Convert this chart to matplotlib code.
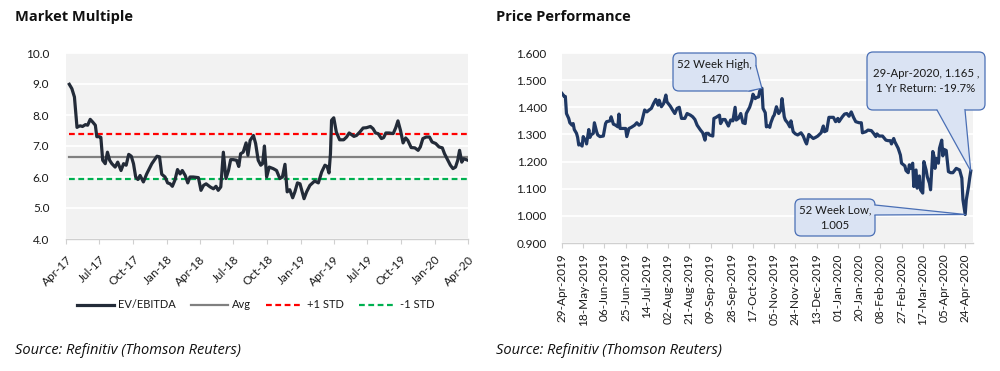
import matplotlib
matplotlib.use("Agg")
import matplotlib.pyplot as plt
import matplotlib.dates as mdates
import matplotlib.ticker as mticker
from matplotlib.patches import FancyBboxPatch, Polygon
from matplotlib.lines import Line2D
from matplotlib.transforms import IdentityTransform
import numpy as np
import pandas as pd

# ---------------- data ----------------
ev_dates = [
    "2017-04-10", "2017-04-17", "2017-04-24", "2017-05-01", "2017-05-05", "2017-05-10",
    "2017-05-16", "2017-05-24", "2017-05-30", "2017-06-06", "2017-06-13", "2017-06-20",
    "2017-06-24", "2017-07-01", "2017-07-05", "2017-07-10", "2017-07-17", "2017-07-23",
    "2017-07-29", "2017-08-04", "2017-08-13", "2017-08-20", "2017-08-29", "2017-09-05",
    "2017-09-12", "2017-09-19", "2017-09-26", "2017-10-02", "2017-10-08", "2017-10-14",
    "2017-10-20", "2017-10-29", "2017-11-07", "2017-11-21", "2017-12-05", "2017-12-12",
    "2017-12-18", "2017-12-27", "2018-01-03", "2018-01-10", "2018-01-16", "2018-01-23",
    "2018-01-30", "2018-02-06", "2018-02-12", "2018-02-20", "2018-02-27", "2018-03-05",
    "2018-03-14", "2018-03-28", "2018-04-04", "2018-04-11", "2018-04-18", "2018-04-29",
    "2018-05-08", "2018-05-15", "2018-05-21", "2018-05-28", "2018-06-04", "2018-06-11",
    "2018-06-18", "2018-06-24", "2018-07-01", "2018-07-10", "2018-07-16", "2018-07-21",
    "2018-07-28", "2018-08-05", "2018-08-10", "2018-08-16", "2018-08-25", "2018-08-31",
    "2018-09-07", "2018-09-14", "2018-09-19", "2018-09-24", "2018-09-30", "2018-10-07",
    "2018-10-18", "2018-10-27", "2018-11-05", "2018-11-12", "2018-11-19", "2018-11-25",
    "2018-12-02", "2018-12-10", "2018-12-16", "2018-12-23", "2018-12-30", "2019-01-10",
    "2019-01-17", "2019-01-26", "2019-02-08", "2019-02-18", "2019-02-27", "2019-03-08",
    "2019-03-14", "2019-03-19", "2019-03-23", "2019-03-26", "2019-04-01", "2019-04-08",
    "2019-04-17", "2019-04-28", "2019-05-06", "2019-05-13", "2019-05-19", "2019-05-26",
    "2019-06-02", "2019-06-11", "2019-06-20", "2019-06-29", "2019-07-10", "2019-07-17",
    "2019-07-24", "2019-07-31", "2019-08-09", "2019-08-15", "2019-08-21", "2019-08-30",
    "2019-09-10", "2019-09-17", "2019-09-23", "2019-09-30", "2019-10-07", "2019-10-14",
    "2019-10-20", "2019-10-29", "2019-11-08", "2019-11-17", "2019-11-23", "2019-11-30",
    "2019-12-09", "2019-12-18", "2019-12-25", "2020-01-04", "2020-01-13", "2020-01-22",
    "2020-01-28", "2020-02-06", "2020-02-13", "2020-02-20", "2020-02-27", "2020-03-04",
    "2020-03-09", "2020-03-15", "2020-03-20", "2020-03-27", "2020-04-01",
]
ev_ebitda = [
    8.99, 8.85, 8.58, 7.60, 7.63, 7.65,
    7.63, 7.69, 7.67, 7.86, 7.77, 7.67,
    7.30, 7.30, 7.28, 6.54, 6.43, 6.80,
    6.54, 6.43, 6.32, 6.48, 6.21, 6.43,
    6.38, 6.73, 6.67, 6.43, 6.00, 5.92,
    6.05, 5.84, 6.10, 6.43, 6.67, 6.65,
    6.09, 6.00, 5.81, 5.78, 5.70, 5.90,
    6.24, 6.10, 6.21, 6.05, 5.81, 6.00,
    6.00, 5.98, 5.57, 5.73, 5.78, 5.68,
    5.62, 5.70, 5.57, 5.68, 6.80, 5.95,
    6.21, 6.56, 6.56, 6.54, 6.34, 6.75,
    6.80, 7.10, 6.70, 7.18, 7.34, 7.08,
    6.54, 6.38, 6.43, 7.00, 6.00, 6.32,
    6.27, 6.21, 5.95, 6.00, 6.41, 5.52,
    5.59, 5.33, 5.52, 5.81, 5.78, 5.30,
    5.52, 5.73, 5.87, 5.81, 6.16, 6.38,
    6.34, 6.13, 6.75, 7.83, 7.91, 7.45,
    7.20, 7.20, 7.29, 7.42, 7.37, 7.31,
    7.34, 7.45, 7.58, 7.59, 7.63, 7.56,
    7.42, 7.40, 7.24, 7.27, 7.42, 7.42,
    7.40, 7.59, 7.81, 7.50, 7.10, 7.26,
    7.18, 6.95, 6.94, 6.86, 6.97, 7.24,
    7.29, 7.29, 7.13, 7.08, 6.97, 6.94,
    6.75, 6.54, 6.38, 6.27, 6.32, 6.54,
    6.86, 6.48, 6.59, 6.56, 6.54,
]
ev_avg = 6.65
ev_plus_std = 7.38
ev_minus_std = 5.92

price_dates = [
    "2019-04-29", "2019-05-01", "2019-05-02", "2019-05-03", "2019-05-05", "2019-05-06",
    "2019-05-08", "2019-05-09", "2019-05-10", "2019-05-12", "2019-05-13", "2019-05-14",
    "2019-05-15", "2019-05-17", "2019-05-18", "2019-05-19", "2019-05-20", "2019-05-21",
    "2019-05-23", "2019-05-24", "2019-05-25", "2019-05-27", "2019-05-28", "2019-05-30",
    "2019-05-31", "2019-06-02", "2019-06-05", "2019-06-07", "2019-06-08", "2019-06-11",
    "2019-06-12", "2019-06-14", "2019-06-16", "2019-06-18", "2019-06-19", "2019-06-20",
    "2019-06-22", "2019-06-25", "2019-06-26", "2019-06-28", "2019-06-30", "2019-07-03",
    "2019-07-05", "2019-07-07", "2019-07-09", "2019-07-12", "2019-07-14", "2019-07-16",
    "2019-07-18", "2019-07-20", "2019-07-22", "2019-07-24", "2019-07-25", "2019-07-27",
    "2019-07-29", "2019-07-31", "2019-08-01", "2019-08-04", "2019-08-06", "2019-08-08",
    "2019-08-10", "2019-08-12", "2019-08-14", "2019-08-17", "2019-08-19", "2019-08-22",
    "2019-08-24", "2019-08-26", "2019-08-28", "2019-08-31", "2019-09-02", "2019-09-04",
    "2019-09-05", "2019-09-07", "2019-09-08", "2019-09-11", "2019-09-12", "2019-09-14",
    "2019-09-17", "2019-09-18", "2019-09-20", "2019-09-22", "2019-09-25", "2019-09-27",
    "2019-09-29", "2019-10-01", "2019-10-02", "2019-10-04", "2019-10-06", "2019-10-08",
    "2019-10-10", "2019-10-11", "2019-10-14", "2019-10-16", "2019-10-17", "2019-10-19",
    "2019-10-20", "2019-10-22", "2019-10-23", "2019-10-25", "2019-10-26", "2019-10-28",
    "2019-10-29", "2019-10-31", "2019-11-01", "2019-11-02", "2019-11-04", "2019-11-05",
    "2019-11-07", "2019-11-09", "2019-11-11", "2019-11-12", "2019-11-14", "2019-11-15",
    "2019-11-17", "2019-11-19", "2019-11-20", "2019-11-22", "2019-11-24", "2019-11-26",
    "2019-11-29", "2019-12-01", "2019-12-03", "2019-12-04", "2019-12-06", "2019-12-08",
    "2019-12-10", "2019-12-12", "2019-12-14", "2019-12-17", "2019-12-19", "2019-12-20",
    "2019-12-22", "2019-12-24", "2019-12-26", "2019-12-28", "2019-12-30", "2020-01-01",
    "2020-01-02", "2020-01-05", "2020-01-07", "2020-01-09", "2020-01-11", "2020-01-13",
    "2020-01-15", "2020-01-17", "2020-01-20", "2020-01-22", "2020-01-23", "2020-01-26",
    "2020-01-28", "2020-01-31", "2020-02-02", "2020-02-04", "2020-02-05", "2020-02-07",
    "2020-02-10", "2020-02-13", "2020-02-15", "2020-02-17", "2020-02-18", "2020-02-20",
    "2020-02-21", "2020-02-24", "2020-02-26", "2020-02-27", "2020-03-01", "2020-03-02",
    "2020-03-04", "2020-03-05", "2020-03-06", "2020-03-08", "2020-03-09", "2020-03-11",
    "2020-03-12", "2020-03-14", "2020-03-15", "2020-03-17", "2020-03-18", "2020-03-20",
    "2020-03-21", "2020-03-23", "2020-03-24", "2020-03-26", "2020-03-27", "2020-03-28",
    "2020-03-29", "2020-03-31", "2020-04-01", "2020-04-03", "2020-04-04", "2020-04-05",
    "2020-04-07", "2020-04-09", "2020-04-11", "2020-04-13", "2020-04-16", "2020-04-19",
    "2020-04-21", "2020-04-22", "2020-04-24", "2020-04-25", "2020-04-27", "2020-04-28",
    "2020-04-29",
]
price = [
    1.451, 1.440, 1.440, 1.377, 1.359, 1.343,
    1.334, 1.340, 1.318, 1.304, 1.289, 1.261,
    1.265, 1.257, 1.292, 1.282, 1.282, 1.265,
    1.318, 1.289, 1.298, 1.304, 1.343, 1.310,
    1.298, 1.292, 1.294, 1.340, 1.347, 1.350,
    1.365, 1.338, 1.334, 1.328, 1.375, 1.322,
    1.322, 1.322, 1.292, 1.322, 1.326, 1.334,
    1.343, 1.334, 1.340, 1.390, 1.383, 1.390,
    1.396, 1.414, 1.429, 1.408, 1.426, 1.402,
    1.414, 1.445, 1.420, 1.404, 1.390, 1.377,
    1.396, 1.400, 1.359, 1.359, 1.377, 1.371,
    1.365, 1.355, 1.334, 1.316, 1.306, 1.279,
    1.304, 1.304, 1.298, 1.294, 1.359, 1.363,
    1.371, 1.340, 1.355, 1.355, 1.331, 1.353,
    1.350, 1.400, 1.353, 1.359, 1.377, 1.343,
    1.340, 1.377, 1.400, 1.426, 1.448, 1.432,
    1.436, 1.438, 1.460, 1.470, 1.396, 1.380,
    1.328, 1.331, 1.326, 1.343, 1.365, 1.371,
    1.402, 1.377, 1.390, 1.432, 1.365, 1.353,
    1.343, 1.328, 1.350, 1.310, 1.302, 1.298,
    1.306, 1.294, 1.273, 1.265, 1.300, 1.292,
    1.285, 1.289, 1.294, 1.306, 1.331, 1.310,
    1.314, 1.363, 1.363, 1.363, 1.347, 1.359,
    1.347, 1.365, 1.375, 1.377, 1.367, 1.383,
    1.363, 1.347, 1.343, 1.343, 1.306, 1.310,
    1.316, 1.314, 1.304, 1.292, 1.302, 1.294,
    1.294, 1.279, 1.277, 1.277, 1.265, 1.285,
    1.273, 1.249, 1.224, 1.194, 1.184, 1.167,
    1.159, 1.188, 1.175, 1.194, 1.108, 1.169,
    1.102, 1.147, 1.096, 1.084, 1.200, 1.169,
    1.145, 1.120, 1.096, 1.237, 1.221, 1.175,
    1.212, 1.194, 1.249, 1.279, 1.221, 1.245,
    1.241, 1.163, 1.159, 1.159, 1.175, 1.169,
    1.139, 1.059, 1.005, 1.059, 1.108, 1.139,
    1.165,
]
high_label = "52 Week High,\n1.470"
low_label = "52 Week Low,\n1.005"
last_label = "29-Apr-2020, 1.165 ,\n1 Yr Return: -19.7%"
ev_legend = ["EV/EBITDA", "Avg", "+1 STD", "-1 STD"]

assert len(ev_dates) == len(ev_ebitda)
assert len(price_dates) == len(price)

# ---------------- styling ----------------
plt.rcParams["font.family"] = ["Lato", "DejaVu Sans"]
W, H = 1000, 371
fig = plt.figure(figsize=(W / 100, H / 100), dpi=100)

BG = "#F2F2F2"
TXT = "#1A1A1A"
AXC = "#D0D0D0"


def fx(x):
    return x / W


def fy(y):
    return 1 - y / H


ax1 = fig.add_axes([fx(66), fy(239), (468 - 66) / W, (239 - 53) / H])
ax2 = fig.add_axes([fx(562), fy(243), (973 - 562) / W, (243 - 53) / H])

for ax in (ax1, ax2):
    ax.set_facecolor(BG)
    for s in ("left", "right", "top"):
        ax.spines[s].set_visible(False)
    ax.spines["bottom"].set_color(AXC)
    ax.spines["bottom"].set_linewidth(1.0)
    ax.grid(axis="y", color="white", linewidth=1.3)
    ax.set_axisbelow(True)
    ax.tick_params(axis="y", length=0, labelsize=8.5, colors=TXT)
    ax.tick_params(axis="x", length=3.5, width=0.8, color=AXC, labelsize=8.5,
                   labelcolor=TXT)

# ---- left chart: market multiple
ev_d = pd.to_datetime(ev_dates)
ln_ev, = ax1.plot(ev_d, ev_ebitda, color="#232B38", lw=2.3, zorder=4,
                  solid_joinstyle="round")
span = [ev_d[0], ev_d[-1]]
ln_avg, = ax1.plot(span, [ev_avg, ev_avg], color="#808080", lw=1.6, zorder=3)
ln_p, = ax1.plot(span, [ev_plus_std, ev_plus_std], color="#FF0000", lw=1.6,
                 dashes=(2.6, 1.6), zorder=3)
ln_m, = ax1.plot(span, [ev_minus_std, ev_minus_std], color="#00B050", lw=1.6,
                 dashes=(2.6, 1.6), zorder=3)
ax1.set_ylim(4, 10)
ax1.yaxis.set_major_locator(mticker.MultipleLocator(1.0))
ax1.yaxis.set_major_formatter(mticker.FormatStrFormatter("%.1f"))
ax1.tick_params(axis="y", pad=12)
ax1.set_xlim(pd.Timestamp("2017-04-01"), pd.Timestamp("2020-04-01"))
ax1.xaxis.set_major_locator(mdates.MonthLocator(bymonth=[1, 4, 7, 10]))
ax1.xaxis.set_major_formatter(mdates.DateFormatter("%b-%y"))
for lab in ax1.get_xticklabels():
    lab.set_rotation(45)
    lab.set_ha("right")
    lab.set_rotation_mode("anchor")
ax1.tick_params(axis="x", pad=7)

fig.legend([ln_ev, ln_avg, ln_p, ln_m], ev_legend, loc="center",
           bbox_to_anchor=(fx(256), fy(305)), ncol=4, frameon=False,
           fontsize=8, handlelength=3.3, handletextpad=0.35,
           columnspacing=1.4, labelcolor=TXT)

# ---- right chart: price performance
pr_d = pd.to_datetime(price_dates)
ax2.plot(pr_d, price, color="#1F3864", lw=2.3, zorder=4, solid_joinstyle="round")
ax2.set_ylim(0.9, 1.6)
ax2.yaxis.set_major_locator(mticker.MultipleLocator(0.1))
ax2.yaxis.set_major_formatter(mticker.FormatStrFormatter("%.3f"))
ax2.tick_params(axis="y", pad=11)
ax2.set_xlim(pd.Timestamp("2019-04-29"), pd.Timestamp("2020-05-01"))
xt = pd.date_range("2019-04-29", "2020-04-29", freq="19D")
ax2.set_xticks(xt)
ax2.set_xticklabels([d.strftime("%d-%b-%Y") for d in xt], rotation=90,
                    va="top", ha="center")
ax2.tick_params(axis="x", pad=4)

# ---- titles / sources
fig.text(fx(15), fy(17), "Market Multiple", family="Open Sans", weight="bold",
         fontsize=10.5, color="#111111", va="center", ha="left")
fig.text(fx(496), fy(17), "Price Performance", family="Open Sans", weight="bold",
         fontsize=10.5, color="#111111", va="center", ha="left")
fig.text(fx(15), fy(350), "Source: Refinitiv (Thomson Reuters)", family="Open Sans",
         style="italic", fontsize=10.5, color="#111111", va="center", ha="left")
fig.text(fx(496), fy(350), "Source: Refinitiv (Thomson Reuters)", family="Open Sans",
         style="italic", fontsize=10.5, color="#111111", va="center", ha="left")

# ---- callouts
FILL = "#DAE3F3"
EDGE = "#4A6FB5"
ID = IdentityTransform()


def callout(ax, box, base, when, val, text, fs=8.2):
    x0, y0, x1, y1 = box
    patch = FancyBboxPatch((x0, H - y1), x1 - x0, y1 - y0,
                           boxstyle="round,pad=0,rounding_size=6",
                           transform=ID, fc=FILL, ec=EDGE, lw=0.9, zorder=5)
    fig.add_artist(patch)
    tip = ax.transData.transform((mdates.date2num(pd.Timestamp(when)), val))
    cx, cy = (x0 + x1) / 2, H - (y0 + y1) / 2
    pts = [np.array([bx, H - by], dtype=float) for bx, by in base]
    inner = []
    for b in pts:
        v = np.array([cx, cy]) - b
        inner.append(b + 2.0 * v / np.linalg.norm(v))
    poly = [inner[0], pts[0], tip, pts[1], inner[1]]
    fig.add_artist(Polygon(poly, closed=True, transform=ID, fc=FILL, ec="none",
                           zorder=6))
    fig.add_artist(Line2D([pts[0][0], tip[0], pts[1][0]],
                          [pts[0][1], tip[1], pts[1][1]], transform=ID,
                          color=EDGE, lw=0.9, zorder=6))
    fig.text(cx, cy, text, transform=ID, ha="center", va="center", fontsize=fs,
             color=TXT, zorder=7, linespacing=1.5)


callout(ax2, (673, 53, 756, 91), [(756, 66), (749, 91)], "2019-10-25", 1.470,
        high_label)
callout(ax2, (795, 199, 875, 236), [(875, 205), (875, 215)], "2020-04-24", 1.005,
        low_label)
callout(ax2, (867, 52, 985, 110), [(937, 110), (965, 110)], "2020-04-29", 1.165,
        last_label)

fig.savefig("out.png", dpi=100)
